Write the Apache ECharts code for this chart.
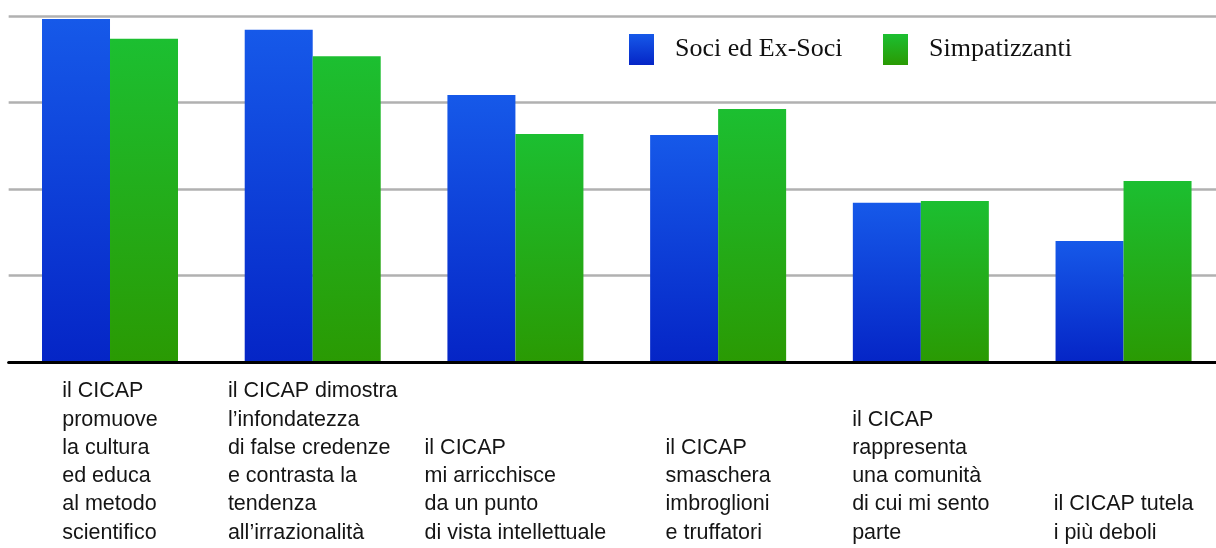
<!DOCTYPE html>
<html>
<head>
<meta charset="utf-8">
<script src="https://cdn.jsdelivr.net/npm/echarts@6/dist/echarts.min.js"></script>
<style>
  html, body { margin: 0; padding: 0; background: #ffffff; }
  #chart { width: 1216px; height: 548px; }
</style>
</head>
<body>
<div id="chart"></div>
<script>
const categories = [
  "il CICAP\npromuove\nla cultura\ned educa\nal metodo\nscientifico",
  "il CICAP dimostra\nl\u2019infondatezza\ndi false credenze\ne contrasta la\ntendenza\nall\u2019irrazionalit\u00e0",
  "il CICAP\nmi arricchisce\nda un punto\ndi vista intellettuale",
  "il CICAP\nsmaschera\nimbroglioni\ne truffatori",
  "il CICAP\nrappresenta\nuna comunit\u00e0\ndi cui mi sento\nparte",
  "il CICAP tutela\ni pi\u00f9 deboli"
];
const seriesNames = ["Soci ed Ex-Soci", "Simpatizzanti"];
const sociValues = [99.1, 96.0, 77.2, 65.6, 46.0, 35.0];
const simpValues = [93.4, 88.4, 65.9, 73.1, 46.5, 52.3];
const yMin = 0, yMax = 100, yInterval = 25;

const blueGrad = new echarts.graphic.LinearGradient(0, 0, 0, 1, [
  { offset: 0, color: '#1659e9' },
  { offset: 1, color: '#0525c6' }
]);
const greenGrad = new echarts.graphic.LinearGradient(0, 0, 0, 1, [
  { offset: 0, color: '#1cbf31' },
  { offset: 1, color: '#2a9a03' }
]);

const chart = echarts.init(document.getElementById('chart'), null, { renderer: 'canvas' });
const legendText = {
  fontFamily: 'Liberation Serif',
  fontSize: 26,
  color: '#111111',
  padding: [0, 0, 0, 16]
};
chart.setOption({
  animation: false,
  backgroundColor: '#ffffff',
  grid: { left: 8.65, right: -8.9, top: 16, height: 346, containLabel: false, outerBoundsMode: 'none' },
  legend: [
    {
      data: [seriesNames[0]], left: 629, top: 34, padding: 0,
      itemWidth: 25, itemHeight: 31, icon: 'rect',
      textStyle: legendText
    },
    {
      data: [seriesNames[1]], left: 883, top: 34, padding: 0,
      itemWidth: 25, itemHeight: 31, icon: 'rect',
      textStyle: legendText
    }
  ],
  xAxis: {
    type: 'category',
    data: categories,
    z: 5,
    axisLine: { show: true, lineStyle: { color: '#000000', width: 3 } },
    axisTick: { show: false },
    splitLine: { show: false },
    axisLabel: {
      interval: 0,
      hideOverlap: false,
      margin: 185,
      verticalAlign: 'bottom',
      align: 'center',
      formatter: function (v) {
        return v.split('\n').map(l => '{a|' + l + '}').join('\n');
      },
      rich: {
        a: {
          align: 'left',
          fontFamily: 'Liberation Sans',
          fontSize: 21.5,
          lineHeight: 28.3,
          color: '#151515'
        }
      }
    }
  },
  yAxis: {
    type: 'value',
    min: yMin, max: yMax, interval: yInterval,
    axisLine: { show: false },
    axisTick: { show: false },
    axisLabel: { show: false },
    splitLine: { show: true, lineStyle: { color: '#b1b1b1', width: 2.5 } }
  },
  series: [
    {
      name: seriesNames[0], type: 'bar', data: sociValues,
      barWidth: 68, barGap: '0%',
      itemStyle: { color: blueGrad }
    },
    {
      name: seriesNames[1], type: 'bar', data: simpValues,
      barWidth: 68, barGap: '0%',
      itemStyle: { color: greenGrad }
    }
  ]
});
</script>
</body>
</html>
